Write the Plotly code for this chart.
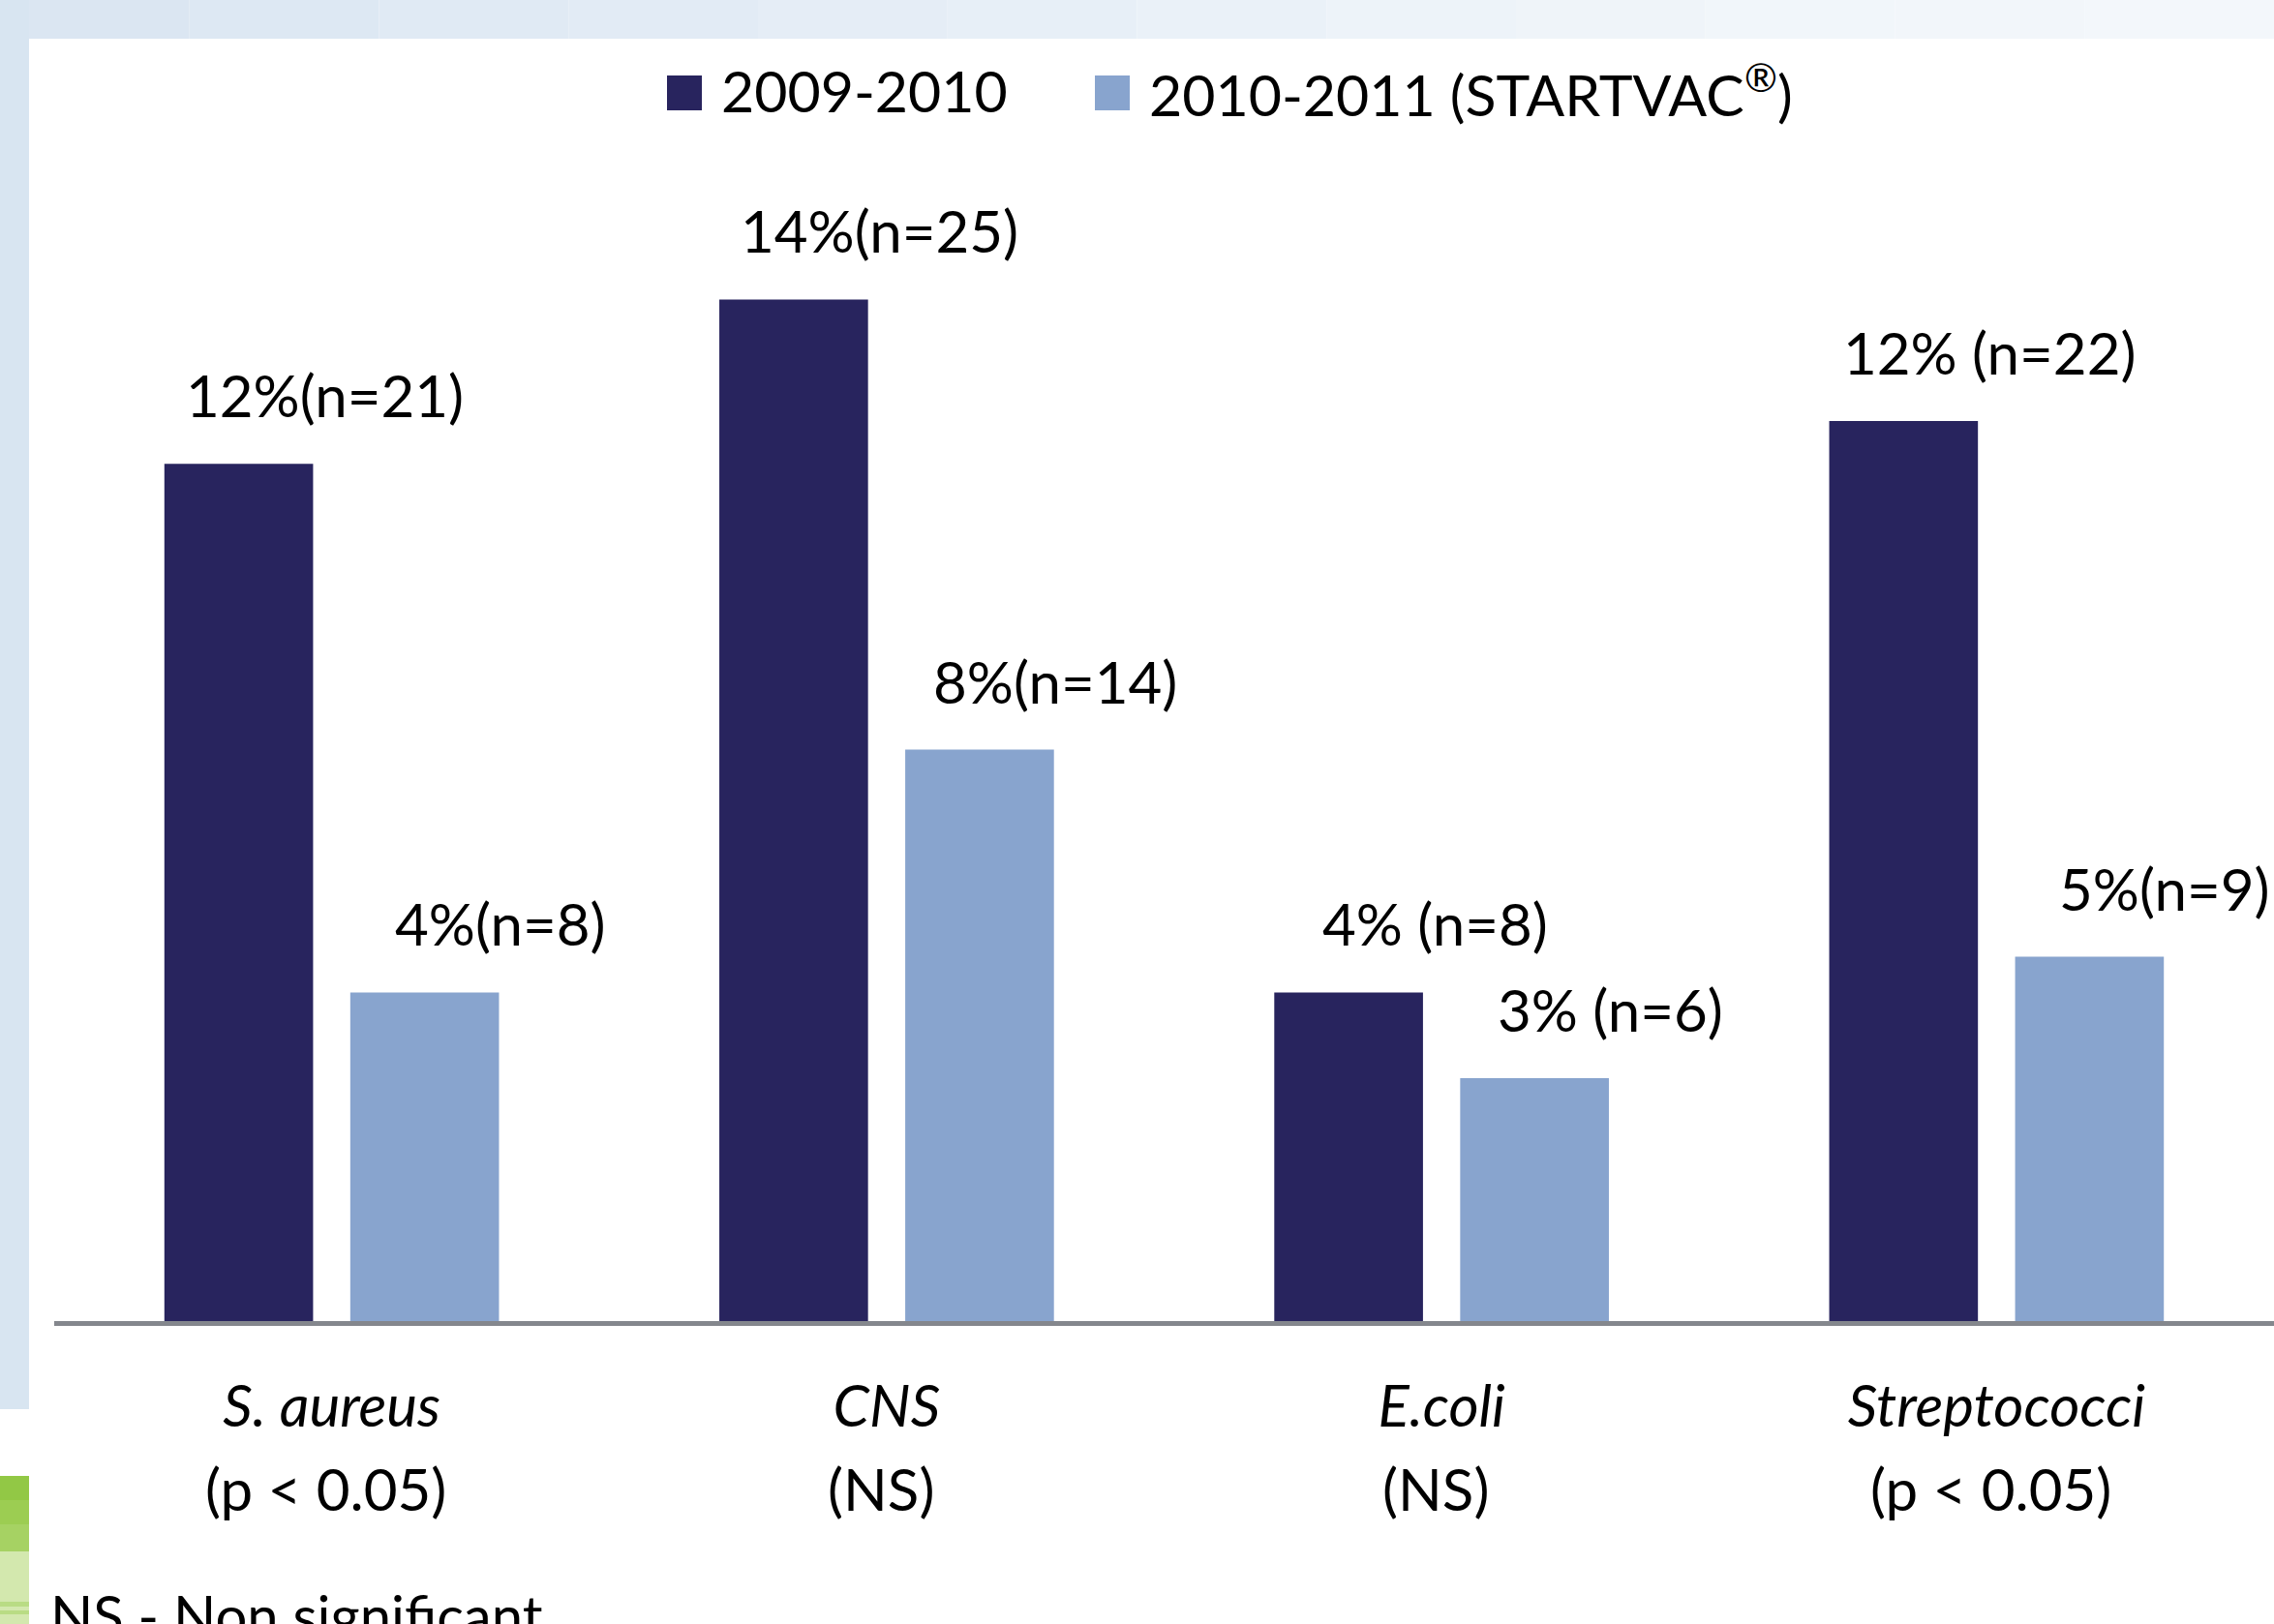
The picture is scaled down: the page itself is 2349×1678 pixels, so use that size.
import plotly.graph_objects as go

# ---------------- data ----------------
categories = ["S. aureus", "CNS", "E.coli", "Streptococci"]
significance = ["(p < 0.05)", "(NS)", "(NS)", "(p < 0.05)"]
series_names = ["2009-2010", "2010-2011 (STARTVAC®)"]
pct_2009 = [12.0, 14.3, 4.6, 12.6]
pct_2010 = [4.6, 8.0, 3.4, 5.1]
labels_2009 = ["12%(n=21)", "14%(n=25)", "4% (n=8)", "12% (n=22)"]
labels_2010 = ["4%(n=8)", "8%(n=14)", "3% (n=6)", "5%(n=9)"]
footnote = "NS - Non significant"

# ---------------- style ----------------
W, H = 2349, 1678
ML, MR, MT, MB = 56, 0, 184, 313
PW, PH = W - ML - MR, H - MT - MB
FONT = "Lato, Carlito, Calibri, 'Open Sans', sans-serif"
FS = 60
DARK = "#28245e"
LIGHT = "#88a4ce"
AXIS = "#84878d"
colors = [DARK, LIGHT]


def px_x(px):
    return (px - ML) / PW


def px_y(py):
    return (H - MB - py) / PH


fig = go.Figure()
idx = list(range(len(categories)))
for name, vals, col in zip(series_names, [pct_2009, pct_2010], colors):
    fig.add_trace(go.Bar(x=idx, y=vals, name=name, marker=dict(color=col, line=dict(width=0)),
                         showlegend=False, hoverinfo="skip"))

annotations = []
shifts = [-7, 174]
for labels, vals, xs in zip([labels_2009, labels_2010], [pct_2009, pct_2010], shifts):
    for i, (lab, v) in enumerate(zip(labels, vals)):
        annotations.append(dict(x=i, y=v, xref="x", yref="y", text=lab, showarrow=False,
                                xanchor="center", yanchor="middle", xshift=xs, yshift=71,
                                font=dict(family=FONT, size=FS, color="black")))

# significance line under each category name
for i, s in enumerate(significance):
    annotations.append(dict(x=i, y=px_y(1538), xref="x", yref="paper", text=s.replace("<", "&lt;"),
                            showarrow=False, xanchor="center", yanchor="middle", xshift=-6,
                            font=dict(family=FONT, size=FS, color="black")))

# legend (drawn manually so that the swatches match the original size)
shapes = []
leg_sq_left = [689, 1131]
leg_txt_left = [743, 1185]
for name, col, sq, tx in zip(series_names, colors, leg_sq_left, leg_txt_left):
    shapes.append(dict(type="rect", xref="paper", yref="paper", x0=px_x(sq), x1=px_x(sq + 36),
                       y0=px_y(114), y1=px_y(78), fillcolor=col, line=dict(width=0), layer="above"))
    annotations.append(dict(x=px_x(tx), y=px_y(94), xref="paper", yref="paper",
                            text=name.replace("®", "<sup>®</sup>"),
                            showarrow=False, xanchor="left", yanchor="middle",
                            font=dict(family=FONT, size=FS - 1, color="black")))

# footnote (cut off at bottom edge, as in the original slide crop)
annotations.append(dict(x=px_x(50), y=px_y(1632), xref="paper", yref="paper", text=footnote,
                        showarrow=False, xanchor="left", yanchor="top",
                        font=dict(family=FONT, size=FS - 2, color="black")))

# background decorations
band_cols = ["#dbe6f2", "#dde8f3", "#e0eaf4", "#e2ebf5", "#e5edf6", "#e7eff7", "#eaf1f8",
             "#edf3f9", "#eff4f9", "#f1f6fa", "#f2f6fa", "#f3f7fb"]
n = len(band_cols)
for k, c in enumerate(band_cols):
    shapes.append(dict(type="rect", xref="paper", yref="paper", x0=px_x(W * k / n), x1=px_x(W * (k + 1) / n),
                       y0=px_y(40), y1=px_y(0), fillcolor=c, line=dict(width=0), layer="below"))
shapes.append(dict(type="rect", xref="paper", yref="paper", x0=px_x(0), x1=px_x(30),
                   y0=px_y(1456), y1=px_y(0), fillcolor="#d8e5f1", line=dict(width=0), layer="below"))
greens = [("#92c845", 1525, 1550), ("#9ccd52", 1550, 1575), ("#a6d263", 1575, 1603),
          ("#d3e8ae", 1603, 1655), ("#b9dc84", 1655, 1660), ("#d3e8ae", 1660, 1664),
          ("#b9dc84", 1664, 1668), ("#d3e8ae", 1668, 1678)]
for c, y0, y1 in greens:
    shapes.append(dict(type="rect", xref="paper", yref="paper", x0=px_x(0), x1=px_x(30),
                       y0=px_y(y1), y1=px_y(y0), fillcolor=c, line=dict(width=0), layer="below"))

ticktext = [f"<i>{c}</i>" for c in categories]

fig.update_layout(
    width=W, height=H,
    margin=dict(l=ML, r=MR, t=MT, b=MB, pad=0),
    paper_bgcolor="white", plot_bgcolor="rgba(0,0,0,0)",
    barmode="group", bargap=0.33, bargroupgap=0.2,
    font=dict(family=FONT, size=FS, color="black"),
    annotations=annotations, shapes=shapes,
    showlegend=False,
)
fig.update_xaxes(range=[-0.5, 3.5], tickmode="array", tickvals=idx, ticktext=ticktext,
                 showline=True, linecolor=AXIS, linewidth=5, ticks="", showgrid=False, zeroline=False,
                 ticklabelstandoff=32, tickfont=dict(family=FONT, size=FS, color="black"), fixedrange=True)
fig.update_yaxes(range=[0, 16], visible=False, showgrid=False, zeroline=False, fixedrange=True)

fig.write_html("out.html", config={"displayModeBar": False, "staticPlot": True},
               post_script="document.body.style.margin='0';document.body.style.overflow='hidden';")
